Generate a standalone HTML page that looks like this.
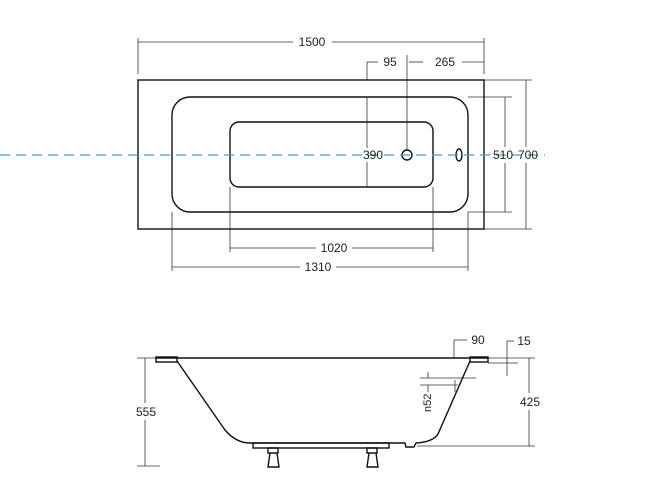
<!DOCTYPE html>
<html><head><style>
html,body{margin:0;padding:0;background:#fff;}
svg{display:block;}
text{font-family:"Liberation Sans",sans-serif;font-size:12px;fill:#222;}
</style></head><body>
<svg width="670" height="504" viewBox="0 0 670 504">
<g stroke="#333" stroke-width="0.8" fill="none">
<line x1="138" y1="38" x2="138" y2="74"/>
<line x1="484" y1="38" x2="484" y2="74"/>
<line x1="138" y1="42" x2="293" y2="42"/><line x1="332" y1="42" x2="484" y2="42"/>
<line x1="367" y1="62" x2="367" y2="80"/><line x1="367" y1="62" x2="378" y2="62"/>
<line x1="409" y1="62" x2="423" y2="62"/><line x1="462" y1="62" x2="484" y2="62"/>
<line x1="407" y1="55" x2="407" y2="150"/>
<line x1="367" y1="98" x2="367" y2="148"/><line x1="367" y1="162" x2="367" y2="187"/>
<line x1="468" y1="97" x2="512" y2="97"/><line x1="468" y1="212" x2="512" y2="212"/>
<line x1="505" y1="97" x2="505" y2="147"/><line x1="505" y1="163" x2="505" y2="212"/>
<line x1="484" y1="80" x2="532" y2="80"/><line x1="484" y1="229" x2="532" y2="229"/>
<line x1="526" y1="80" x2="526" y2="147"/><line x1="526" y1="163" x2="526" y2="229"/>
<line x1="230" y1="187" x2="230" y2="252"/><line x1="433" y1="187" x2="433" y2="252"/>
<line x1="230" y1="248" x2="316" y2="248"/><line x1="352" y1="248" x2="433" y2="248"/>
<line x1="172" y1="212" x2="172" y2="271"/><line x1="468" y1="212" x2="468" y2="271"/>
<line x1="172" y1="267" x2="300" y2="267"/><line x1="336" y1="267" x2="468" y2="267"/>
</g>
<g stroke="#111" stroke-width="1.4" fill="none">
<rect x="138" y="80" width="346" height="149"/>
<rect x="172" y="97" width="296" height="115" rx="18"/>
<rect x="230" y="122" width="203" height="65" rx="9"/>
<circle cx="407" cy="155" r="5"/>
<ellipse cx="459" cy="155" rx="3" ry="6"/>
</g>
<line x1="0" y1="155" x2="545" y2="155" stroke="#3aa6c6" stroke-width="1.2" stroke-dasharray="10,6"/>
<text x="312" y="46" text-anchor="middle">1500</text>
<text x="390" y="66" text-anchor="middle">95</text>
<text x="445" y="66" text-anchor="middle">265</text>
<text x="373" y="159" text-anchor="middle">390</text>
<text x="503" y="159" text-anchor="middle">510</text>
<text x="528" y="159" text-anchor="middle">700</text>
<text x="334" y="252" text-anchor="middle">1020</text>
<text x="318" y="271" text-anchor="middle">1310</text>
<g stroke="#333" stroke-width="0.8" fill="none">
<line x1="137" y1="358" x2="535" y2="358"/>
<line x1="488" y1="363" x2="518" y2="363"/>
<line x1="137" y1="466" x2="160" y2="466"/>
<line x1="145" y1="358" x2="145" y2="403"/><line x1="145" y1="420" x2="145" y2="466"/>
<line x1="417" y1="446" x2="535" y2="446"/>
<line x1="529" y1="358" x2="529" y2="393"/><line x1="529" y1="410" x2="529" y2="446"/>
<line x1="454" y1="340" x2="454" y2="358"/><line x1="454" y1="340" x2="467" y2="340"/>
<line x1="507" y1="341" x2="507" y2="376"/><line x1="507" y1="341" x2="514" y2="341"/>
<line x1="428" y1="372" x2="428" y2="378"/><line x1="428" y1="385" x2="428" y2="392"/>
<line x1="420" y1="378" x2="476" y2="378"/><line x1="420" y1="385" x2="458" y2="385"/>
<line x1="455" y1="380" x2="455" y2="392"/>
</g>
<g stroke="#111" stroke-width="1.4" fill="none">
<line x1="156" y1="358" x2="488" y2="358"/>
<rect x="156" y="357" width="21" height="5"/>
<rect x="470" y="357" width="18" height="5"/>
<path d="M177 361 L225 430 Q236 443 250 443 L405 443 L406 447 L414 447 L416 443 Q433 442 438 434 L470 361"/>
<rect x="253" y="443" width="136" height="5"/>
<path d="M268 448 h10 v5 h-10z M270 453 h7 l2 14 h-11z M367 448 h10 v5 h-10z M369 453 h7 l2 14 h-11z"/>
</g>
<text x="146" y="416" text-anchor="middle">555</text>
<text x="530" y="406" text-anchor="middle">425</text>
<text x="478" y="344" text-anchor="middle">90</text>
<text x="524" y="345" text-anchor="middle">15</text>
<text x="0" y="0" transform="translate(431,412) rotate(-90)" style="font-size:11px">n52</text>
</svg>
</body></html>
